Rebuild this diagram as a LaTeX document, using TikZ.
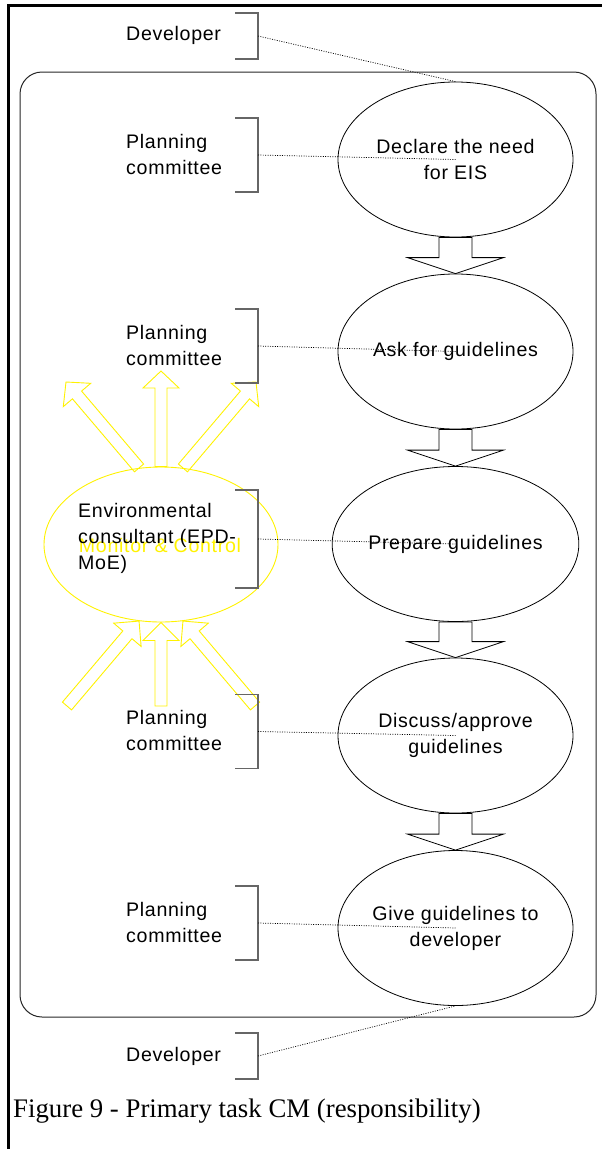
\documentclass[tikz,border=0pt]{standalone}
\usepackage{fontspec}
\setmainfont{Liberation Sans}[LetterSpace=3.5]
\newfontfamily\capfont{Liberation Serif}
\usetikzlibrary{shapes.geometric,calc}

% block arrow: #1 style, #2 tail, #3 tip, #4 half shaft width, #5 half head width, #6 head length
\newcommand\blockarrow[6]{%
  \coordinate (ba-head) at ($(#3)!#6!(#2)$);
  \draw[#1] ($(#2)!#4!90:(#3)$) -- ($(ba-head)!#4!90:(#3)$) -- ($(ba-head)!#5!90:(#3)$)
    -- (#3) -- ($(ba-head)!#5!-90:(#3)$) -- ($(ba-head)!#4!-90:(#3)$) -- ($(#2)!#4!-90:(#3)$) -- cycle;}

\begin{document}
\begin{tikzpicture}[x=1pt,y=-1pt,
  font=\fontsize{19.6}{26}\selectfont,
  stage/.style={ellipse, draw, line width=0.8pt, minimum width=235pt,
    minimum height=155pt, inner sep=0pt, align=center},
  role/.style={anchor=west, align=left, inner sep=0pt},
  bracket/.style={draw=black!60, line width=1.2pt},
  link/.style={line width=0.7pt, dash pattern=on 1pt off 1.4pt},
  flow/.style={draw, line width=0.8pt},
  ctrl/.style={draw=yellow, line width=0.9pt}]
\useasboundingbox (0,0) rectangle (602,1149);

% page frame and the system boundary
\draw[line width=3pt] (8,1149) -- (8,5) -- (602,5);
\draw[black!85, line width=1pt, rounded corners=22pt] (20,72) rectangle (596,1017);

% monitoring and control by the consultant
\node[ellipse, ctrl, minimum width=234pt, minimum height=155pt, inner sep=0pt] (env) at (161,544.5) {};
\coordinate (yt1) at (66,382);
\coordinate (yt2) at (161,371);
\coordinate (yt3) at (256,382);
\coordinate (yb1) at (67,706);
\coordinate (yb2) at (161,706);
\coordinate (yb3) at (255,706);
\blockarrow{ctrl}{env.106}{yt1}{6pt}{18pt}{17pt}
\blockarrow{ctrl}{env.north}{yt2}{6pt}{18pt}{17pt}
\blockarrow{ctrl}{env.74}{yt3}{6pt}{18pt}{17pt}
\blockarrow{ctrl}{yb1}{env.-106}{6pt}{18pt}{18pt}
\blockarrow{ctrl}{yb2}{env.south}{6pt}{18pt}{18pt}
\blockarrow{ctrl}{yb3}{env.-74}{6pt}{18pt}{18pt}
\node[text=yellow, inner sep=0pt] (mc) at (160,545) {Monitor \& Control};

% task stages
\node[stage] (e1) at (455.5,159.5) {Declare the need\\for EIS};
\node[stage] (e2) at (455.5,351.5) {Ask for guidelines};
\node[stage] (e3) at (455.5,544) {Prepare guidelines};
\node[stage] (e4) at (455.5,735.5) {Discuss/approve\\guidelines};
\node[stage] (e5) at (455.5,928) {Give guidelines to\\developer};

\blockarrow{flow}{e1.south}{e2.north}{16.5pt}{48pt}{16pt}
\blockarrow{flow}{e2.south}{e3.north}{16.5pt}{48pt}{16pt}
\blockarrow{flow}{e3.south}{e4.north}{16.5pt}{48pt}{16pt}
\blockarrow{flow}{e4.south}{e5.north}{16.5pt}{48pt}{16pt}

% responsible parties
\node[role] (r0) at (126,35) {Developer};
\node[role] (r1) at (126,154) {Planning\\committee};
\node[role] (r2) at (126,345) {Planning\\committee};
\node[role] (r3) at (78,538) {Environmental\\consultant (EPD-\\MoE)};
\node[role] (r4) at (126,730.5) {Planning\\committee};
\node[role] (r5) at (126,922) {Planning\\committee};
\node[role] (r6) at (126,1056) {Developer};

\coordinate (b0) at (258,36);
\coordinate (b1) at (258,155);
\coordinate (b2) at (258,346);
\coordinate (b3) at (258,539);
\coordinate (b4) at (258,731.5);
\coordinate (b5) at (258,923);
\coordinate (b6) at (258,1056);
\draw[bracket] ($(b0)+(-23,-23)$) -- ++(23,0) -- ++(0,46) -- ++(-23,0);
\draw[bracket] ($(b1)+(-23,-37)$) -- ++(23,0) -- ++(0,74) -- ++(-23,0);
\draw[bracket] ($(b2)+(-23,-37)$) -- ++(23,0) -- ++(0,74) -- ++(-23,0);
\draw[bracket] ($(b3)+(-23,-49)$) -- ++(23,0) -- ++(0,98) -- ++(-23,0);
\draw[bracket] ($(b4)+(-23,-37)$) -- ++(23,0) -- ++(0,74) -- ++(-23,0);
\draw[bracket] ($(b5)+(-23,-37)$) -- ++(23,0) -- ++(0,74) -- ++(-23,0);
\draw[bracket] ($(b6)+(-23,-23)$) -- ++(23,0) -- ++(0,46) -- ++(-23,0);

\draw[link] (b0) -- (e1.north);
\draw[link] (b1) -- (e1.center);
\draw[link] (b2) -- (e2.center);
\draw[link] (b3) -- (e3.center);
\draw[link] (b4) -- (e4.center);
\draw[link] (b5) -- (e5.center);
\draw[link] (b6) -- (e5.south);

% caption
\node[anchor=base west, inner sep=0pt, font=\capfont\fontsize{26.8}{32}\selectfont] (cap) at (13,1117)
  {Figure 9 - Primary task CM (responsibility)};
\end{tikzpicture}
\end{document}
